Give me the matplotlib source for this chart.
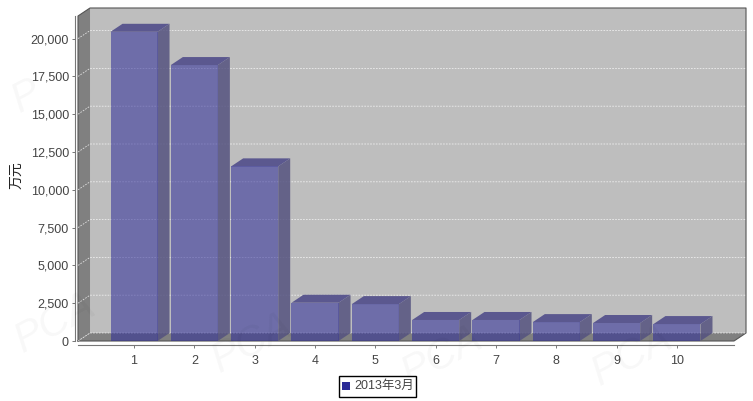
import matplotlib
matplotlib.use('Agg')
import matplotlib.pyplot as plt
from matplotlib.patches import Rectangle

plt.rcParams['font.family'] = ['Liberation Sans', 'Noto Sans CJK SC', 'DejaVu Sans']

categories = [1, 2, 3, 4, 5, 6, 7, 8, 9, 10]
values = [20450, 18250, 11550, 2530, 2440, 1390, 1390, 1250, 1190, 1120]
y_ticks = [0, 2500, 5000, 7500, 10000, 12500, 15000, 17500, 20000]
series_name = '2013年3月'
y_title = '万元'
watermarks = [('PCA', 8, 352), ('PCA', 205, 372), ('PCA', 395, 385), ('PCA', 585, 385), ('P', 5, 112)]

fig = plt.figure(figsize=(7.53, 4.01), dpi=100)
ax = fig.add_axes([78 / 753, 1 - 341 / 401, 656 / 753, 325 / 401])
ax.patch.set_visible(False)

x_left = 1 - 56 / 60.3
x_right = 10 + 57 / 60.3
y_top = 325 / 0.01512
ax.set_xlim(x_left, x_right)
ax.set_ylim(0, y_top)

# depth of the fake 3d box, in data units
dx = 12 / 60.3
dy = 8 / 0.01512

# walls and floor
ax.fill([x_left + dx, x_right + dx, x_right + dx, x_left + dx], [dy, dy, y_top + dy, y_top + dy],
        color='#bebebe', lw=0, clip_on=False, zorder=1)
ax.fill([x_left, x_left + dx, x_left + dx, x_left], [0, dy, y_top + dy, y_top],
        color='#808080', lw=0, clip_on=False, zorder=1)
ax.fill([x_left, x_left + dx, x_right + dx, x_right], [0, dy, dy, 0],
        color='#808080', lw=0, clip_on=False, zorder=1)
# outline of the box
ax.plot([x_left, x_left, x_left + dx, x_right + dx, x_right + dx, x_right, x_left],
        [0, y_top, y_top + dy, y_top + dy, dy, 0, 0], color='#555555', lw=0.8, clip_on=False, zorder=2)

# dashed grid on back wall and left wall
for t in y_ticks:
    ax.plot([x_left, x_left + dx, x_right + dx], [t, t + dy, t + dy], color='white', lw=0.6, alpha=0.75,
            ls=(0, (2, 1.5)), clip_on=False, zorder=2)

# bars with side and top faces
width = 47 / 60.3
for c, v in zip(categories, values):
    l = c - width / 2
    r = c + width / 2
    ax.fill([r, r + dx, r + dx, r], [0, dy, v + dy, v], color='#54527f', alpha=0.85, lw=0, zorder=3)
    ax.fill([l, l + dx, r + dx, r], [v, v + dy, v + dy, v], color='#5b588f', lw=0, zorder=3)
ax.bar(categories, values, width=width, color='#2d2b98', alpha=0.55, lw=0, zorder=4)

ax.spines['top'].set_visible(False)
ax.spines['right'].set_visible(False)
ax.spines['left'].set_position(('outward', 2.5))
ax.spines['bottom'].set_position(('outward', 2.9))
ax.spines['left'].set_color('#777777')
ax.spines['bottom'].set_color('#777777')
ax.spines['left'].set_bounds(0, y_top)
ax.set_xticks(categories)
ax.set_yticks(y_ticks)
ax.set_yticklabels([f'{t:,}' for t in y_ticks])
ax.tick_params(axis='both', colors='#777777', labelcolor='#444444', labelsize=9, length=2.5, width=0.7)
ax.tick_params(axis='x', pad=4.5)
ax.tick_params(axis='y', pad=1.5)

fig.text(16 / 753, 1 - 175 / 401, y_title, rotation=90, fontsize=10, color='#222222', ha='center', va='center')

# legend box
fig.add_artist(Rectangle((338.5 / 753, 1 - 396.5 / 401), 77 / 753, 21 / 401, transform=fig.transFigure,
                         fc='white', ec='black', lw=1))
fig.add_artist(Rectangle((341.5 / 753, 1 - 389.5 / 401), 8 / 753, 8 / 401, transform=fig.transFigure,
                         fc='#2a2a96', ec='none'))
fig.text(354 / 753, 1 - 386 / 401, series_name, fontsize=9, color='#444444', va='center')

# faint watermark
for s, px, py in watermarks:
    fig.text(px / 753, 1 - py / 401, s, rotation=28, fontsize=30, style='italic',
             color='#000000', alpha=0.03, zorder=0)

fig.savefig('out.png', dpi=100)
